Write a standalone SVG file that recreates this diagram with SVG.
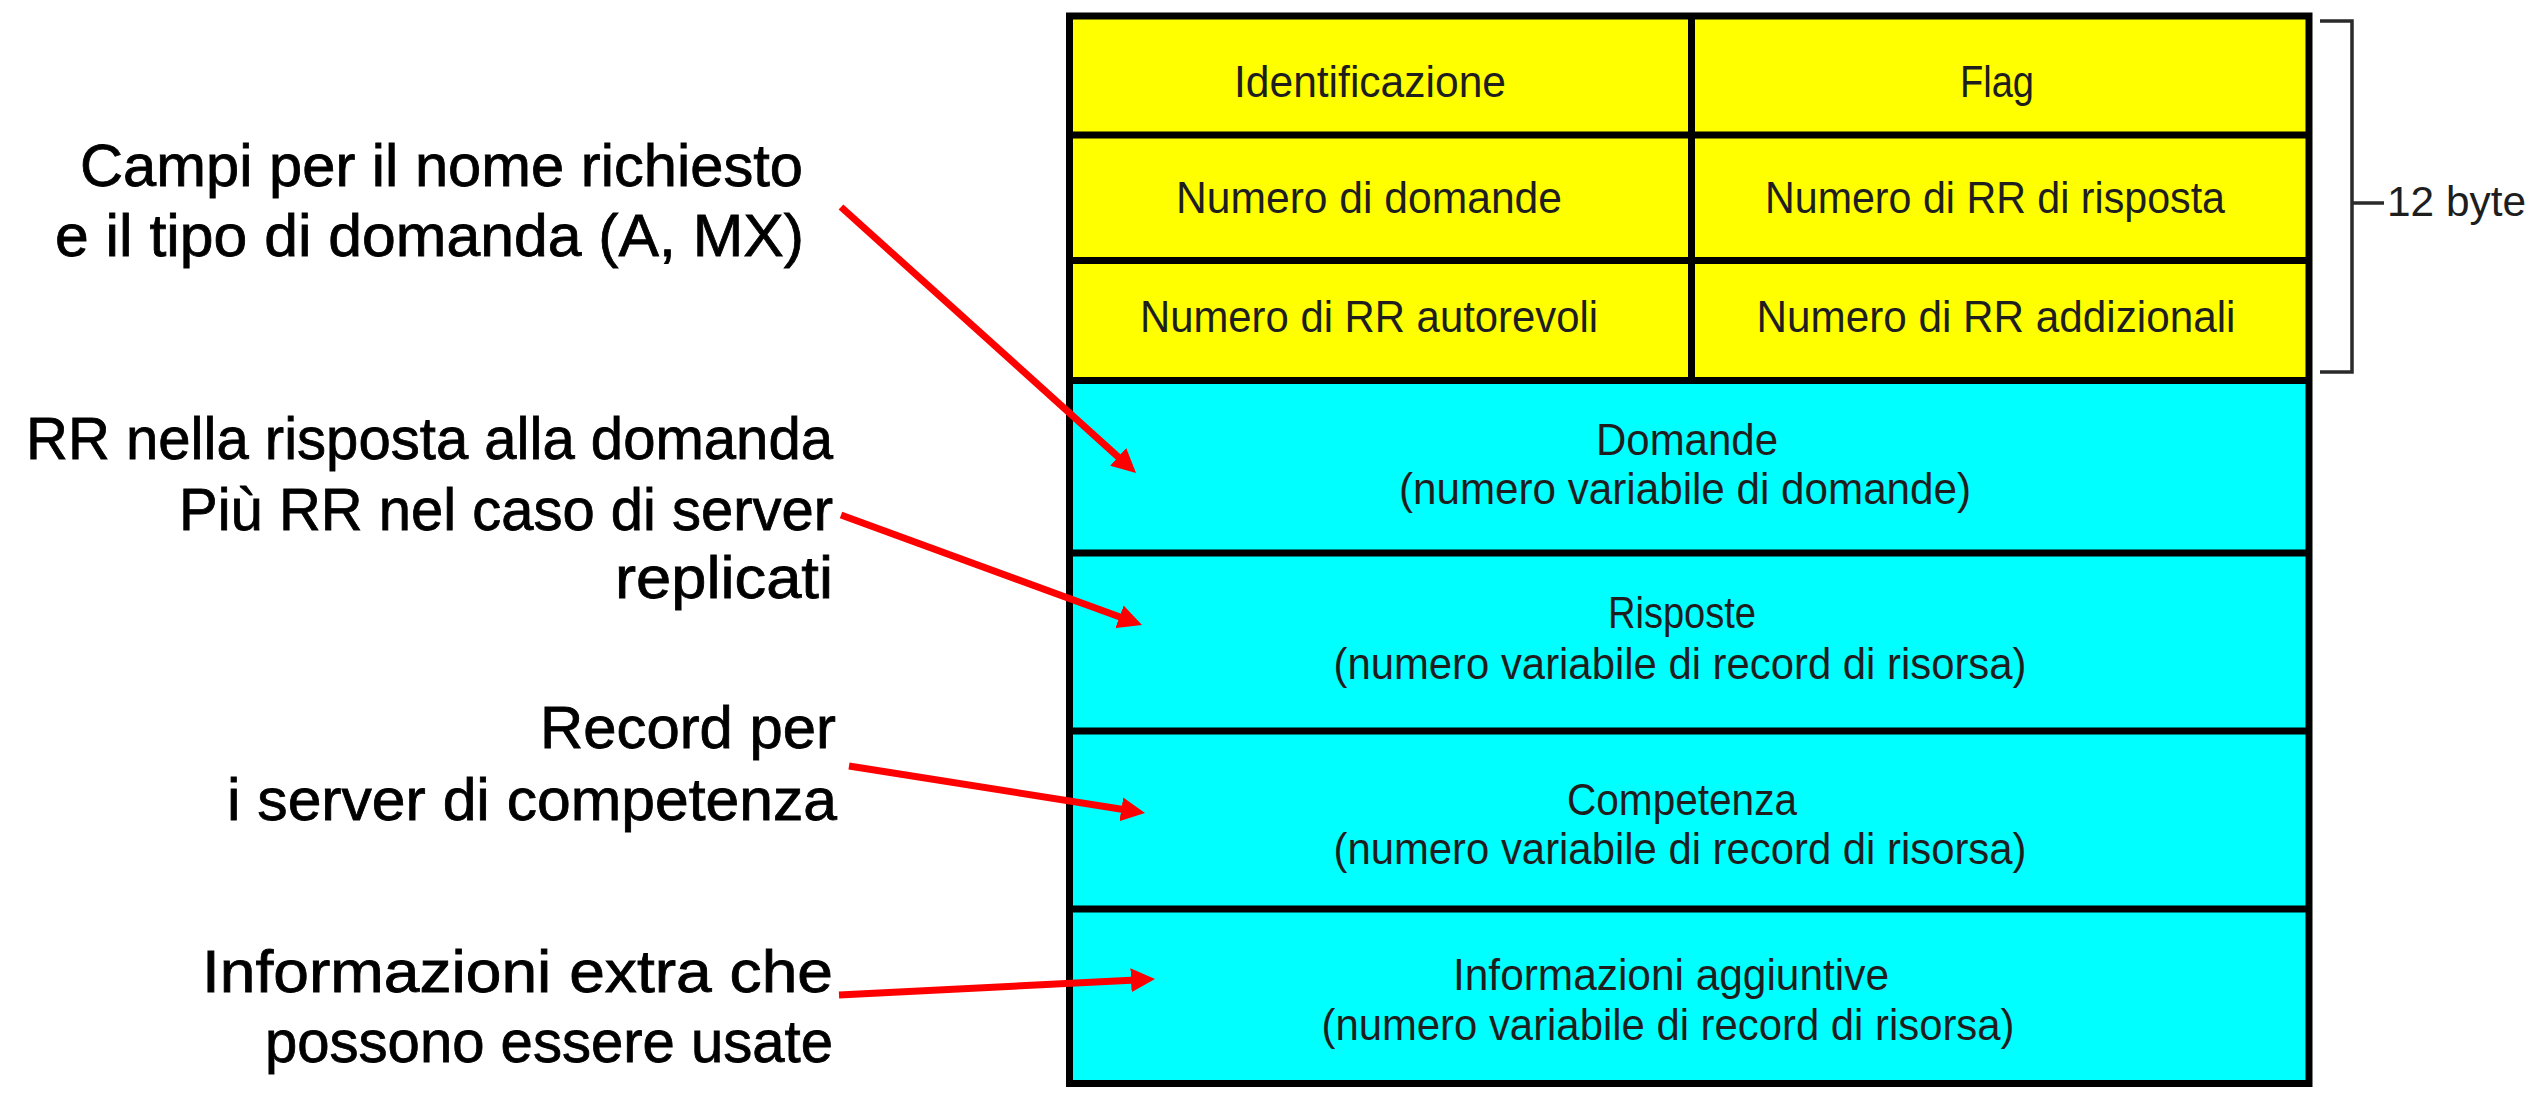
<svg xmlns="http://www.w3.org/2000/svg" width="2548" height="1106" viewBox="0 0 2548 1106">
<style>
.cell{font-family:"Liberation Sans",Arial,sans-serif;font-size:45px;fill:#1e1e1e;text-anchor:middle}
.note{font-family:"Liberation Sans",Arial,sans-serif;font-size:60px;fill:#000;text-anchor:end;stroke:#000;stroke-width:0.8}
.grid{stroke:#000;stroke-width:7;fill:none}
.arrow{stroke:#ff0000;stroke-width:7;fill:none;marker-end:url(#head)}
.brace{stroke:#2a2a2a;stroke-width:3.5;fill:none}
</style>
<defs>
<marker id="head" markerUnits="userSpaceOnUse" markerWidth="24" markerHeight="24" refX="10" refY="12" orient="auto">
<path d="M0,0 L24,12 L0,24 z" fill="#ff0000"/>
</marker>
</defs>
<rect x="0" y="0" width="2548" height="1106" fill="#ffffff"/>

<g id="table">
<rect x="1069" y="16" width="1240" height="365" fill="#ffff00"/>
<rect x="1069" y="381" width="1240" height="702" fill="#00ffff"/>
</g>

<g id="identificazione"><text class="cell" x="1370" y="97" textLength="272" lengthAdjust="spacingAndGlyphs">Identificazione</text></g>
<g id="flag"><text class="cell" x="1997" y="97" textLength="74" lengthAdjust="spacingAndGlyphs">Flag</text></g>
<g id="num-domande"><text class="cell" x="1369" y="213" textLength="386" lengthAdjust="spacingAndGlyphs">Numero di domande</text></g>
<g id="num-risposta"><text class="cell" x="1995" y="213" textLength="460" lengthAdjust="spacingAndGlyphs">Numero di RR di risposta</text></g>
<g id="num-autorevoli"><text class="cell" x="1369" y="332" textLength="458" lengthAdjust="spacingAndGlyphs">Numero di RR autorevoli</text></g>
<g id="num-addizionali"><text class="cell" x="1996" y="332" textLength="479" lengthAdjust="spacingAndGlyphs">Numero di RR addizionali</text></g>

<g id="domande">
<text class="cell" x="1687" y="455" textLength="182" lengthAdjust="spacingAndGlyphs">Domande</text>
<text class="cell" x="1685" y="504" textLength="572" lengthAdjust="spacingAndGlyphs">(numero variabile di domande)</text>
</g>
<g id="risposte">
<text class="cell" x="1682" y="628" textLength="148" lengthAdjust="spacingAndGlyphs">Risposte</text>
<text class="cell" x="1680" y="679" textLength="693" lengthAdjust="spacingAndGlyphs">(numero variabile di record di risorsa)</text>
</g>
<g id="competenza">
<text class="cell" x="1682" y="815" textLength="230" lengthAdjust="spacingAndGlyphs">Competenza</text>
<text class="cell" x="1680" y="864" textLength="693" lengthAdjust="spacingAndGlyphs">(numero variabile di record di risorsa)</text>
</g>
<g id="aggiuntive">
<text class="cell" x="1671" y="990" textLength="436" lengthAdjust="spacingAndGlyphs">Informazioni aggiuntive</text>
<text class="cell" x="1668" y="1040" textLength="693" lengthAdjust="spacingAndGlyphs">(numero variabile di record di risorsa)</text>
</g>

<g id="grid-lines">
<rect class="grid" x="1069.5" y="16" width="1239.5" height="1067.5"/>
<line class="grid" x1="1069" y1="135" x2="2309" y2="135"/>
<line class="grid" x1="1069" y1="260.5" x2="2309" y2="260.5"/>
<line class="grid" x1="1069" y1="380.5" x2="2309" y2="380.5"/>
<line class="grid" x1="1069" y1="553" x2="2309" y2="553"/>
<line class="grid" x1="1069" y1="731" x2="2309" y2="731"/>
<line class="grid" x1="1069" y1="909" x2="2309" y2="909"/>
<line class="grid" x1="1691.5" y1="16" x2="1691.5" y2="380.5"/>
</g>

<g id="header-brace">
<path class="brace" d="M2320,21 H2352 V372 H2320 M2352,203 H2384"/>
<text x="2387" y="216" style="font-family:'Liberation Sans',Arial,sans-serif;font-size:42px;fill:#1e1e1e" textLength="139" lengthAdjust="spacingAndGlyphs">12 byte</text>
</g>

<g id="note-campi">
<text class="note" x="803" y="186" textLength="723" lengthAdjust="spacingAndGlyphs">Campi per il nome richiesto</text>
<text class="note" x="804" y="256" textLength="749" lengthAdjust="spacingAndGlyphs">e il tipo di domanda (A, MX)</text>
</g>
<g id="note-rr">
<text class="note" x="833" y="459" textLength="807" lengthAdjust="spacingAndGlyphs">RR nella risposta alla domanda</text>
<text class="note" x="833" y="530" textLength="654" lengthAdjust="spacingAndGlyphs">Più RR nel caso di server</text>
<text class="note" x="833" y="598" textLength="218" lengthAdjust="spacingAndGlyphs">replicati</text>
</g>
<g id="note-record">
<text class="note" x="836" y="748" textLength="296" lengthAdjust="spacingAndGlyphs">Record per</text>
<text class="note" x="837" y="820" textLength="610" lengthAdjust="spacingAndGlyphs">i server di competenza</text>
</g>
<g id="note-info">
<text class="note" x="833" y="992" textLength="631" lengthAdjust="spacingAndGlyphs">Informazioni extra che</text>
<text class="note" x="833" y="1062" textLength="568" lengthAdjust="spacingAndGlyphs">possono essere usate</text>
</g>

<g id="connectors">
<line class="arrow" x1="841" y1="207" x2="1125.6" y2="463.6"/>
<line class="arrow" x1="841" y1="515" x2="1128.9" y2="620.2"/>
<line class="arrow" x1="849" y1="766" x2="1131.2" y2="810.8"/>
<line class="arrow" x1="839" y1="995" x2="1141" y2="979.7"/>
</g>
</svg>
